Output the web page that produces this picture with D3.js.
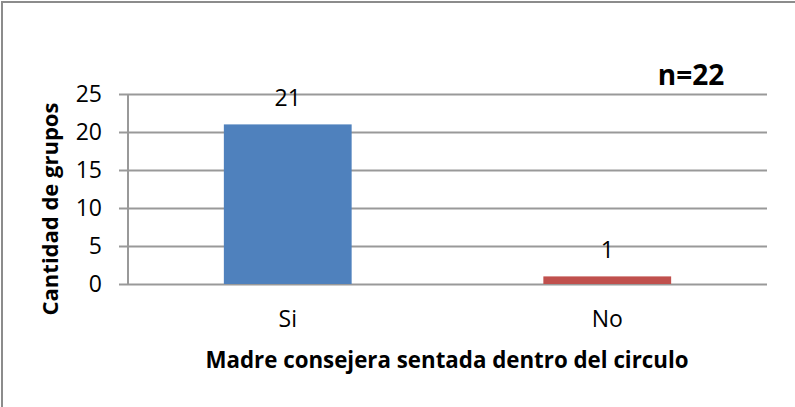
<!DOCTYPE html>
<html>
<head>
<meta charset="utf-8">
<script src="https://cdn.jsdelivr.net/npm/d3@7"></script>
<style>
  body { margin: 0; background: #fff; }
  svg { display: block; font-family: "Open Sans", "Noto Sans", sans-serif; }
</style>
</head>
<body>
<div id="chart"></div>
<script>
// data
var categories = ["Si", "No"];
var values = [21, 1];
var barColors = ["#4F81BD", "#C0504D"];
var yTicks = [0, 5, 10, 15, 20, 25];

var W = 795, H = 407;
var margin = {top: 94, right: 28, bottom: 123, left: 128},
    width = W - margin.left - margin.right,
    height = H - margin.top - margin.bottom;

var svg = d3.select("#chart").append("svg")
    .attr("width", W)
    .attr("height", H);

// outer frame (only top/left show in the picture)
svg.append("rect")
    .attr("x", 2).attr("y", 2)
    .attr("width", W + 10).attr("height", H + 10)
    .attr("fill", "none")
    .attr("stroke", "#8c8c8c")
    .attr("stroke-width", 2);

var g = svg.append("g")
    .attr("transform", "translate(" + margin.left + "," + margin.top + ")");

var x = d3.scaleBand().domain(categories).range([0, width]).paddingInner(0.6).paddingOuter(0.3);
var y = d3.scaleLinear().domain([0, 25]).range([height, 0]);

// gridlines + y axis
var yAxis = g.append("g")
    .call(d3.axisLeft(y).tickValues(yTicks).tickSize(-width).tickSizeOuter(0));
yAxis.select(".domain").remove();
yAxis.selectAll(".tick line")
    .attr("x1", -9)
    .attr("stroke", "#999")
    .attr("stroke-width", 2);
yAxis.selectAll(".tick text")
    .attr("x", -26)
    .attr("font-size", 23)
    .attr("fill", "#000")
    .attr("font-family", "Open Sans, sans-serif");

g.append("line")
    .attr("x1", 0).attr("x2", 0)
    .attr("y1", 0).attr("y2", height)
    .attr("stroke", "#999").attr("stroke-width", 2);

// bars
g.selectAll(".bar").data(values).enter().append("rect")
    .attr("class", "bar")
    .attr("x", function(d, i) { return x(categories[i]); })
    .attr("width", x.bandwidth())
    .attr("y", function(d) { return y(d); })
    .attr("height", function(d) { return height - y(d); })
    .attr("fill", function(d, i) { return barColors[i]; });

// value labels
g.selectAll(".val").data(values).enter().append("text")
    .attr("x", function(d, i) { return x(categories[i]) + x.bandwidth() / 2; })
    .attr("y", function(d) { return y(d) - 18; })
    .attr("text-anchor", "middle")
    .attr("font-size", 23)
    .text(function(d) { return d; });

// category labels
g.selectAll(".cat").data(categories).enter().append("text")
    .attr("x", function(d) { return x(d) + x.bandwidth() / 2; })
    .attr("y", height + 43)
    .attr("text-anchor", "middle")
    .attr("font-size", 23)
    .text(function(d) { return d; });

// axis titles
svg.append("text")
    .attr("x", 447).attr("y", 368)
    .attr("text-anchor", "middle")
    .attr("font-size", 22.3)
    .attr("font-weight", "bold")
    .text("Madre consejera sentada dentro del circulo");

svg.append("text")
    .attr("transform", "translate(58,209) rotate(-90)")
    .attr("text-anchor", "middle")
    .attr("font-size", 22)
    .attr("font-weight", "bold")
    .text("Cantidad de grupos");

svg.append("text")
    .attr("x", 691).attr("y", 85)
    .attr("text-anchor", "middle")
    .attr("font-size", 28)
    .attr("font-weight", "bold")
    .text("n=22");
</script>
</body>
</html>
